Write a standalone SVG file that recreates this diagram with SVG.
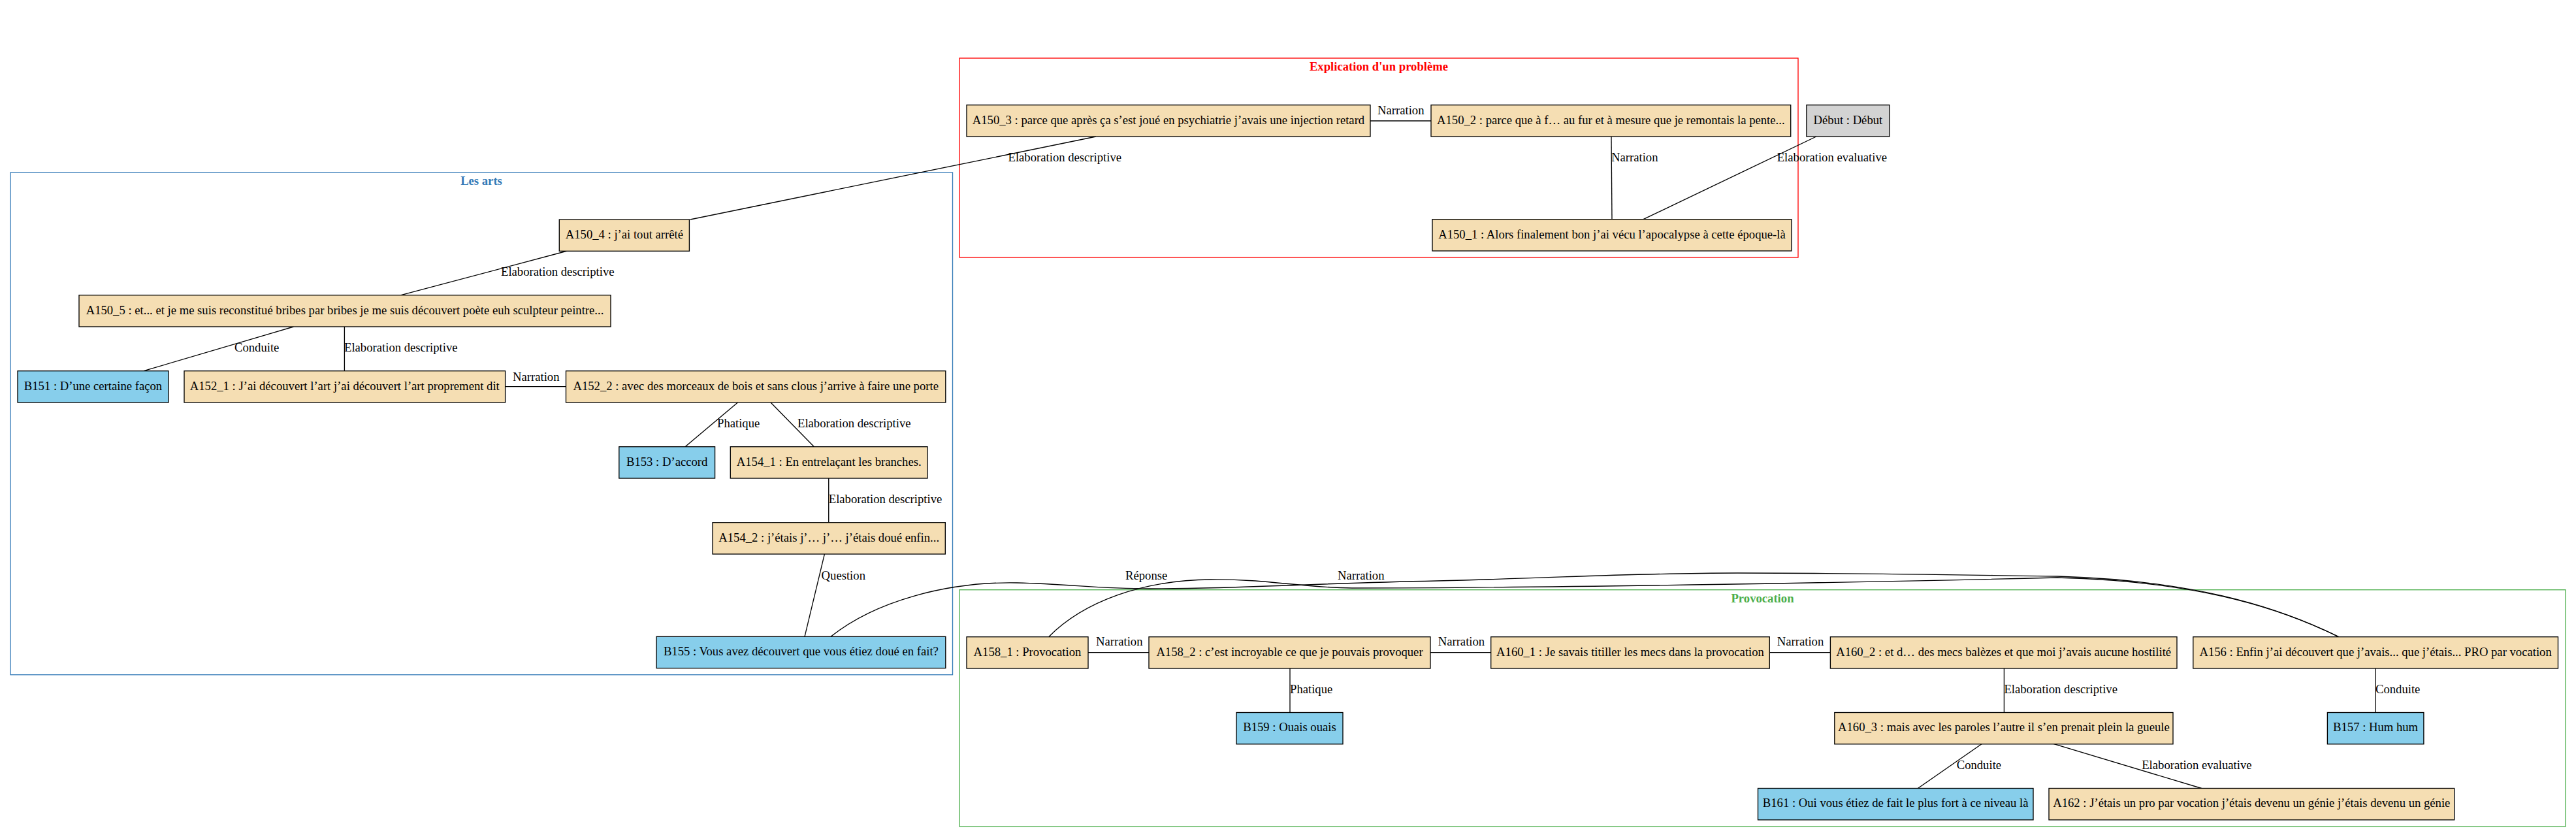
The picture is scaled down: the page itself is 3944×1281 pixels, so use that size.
<svg xmlns="http://www.w3.org/2000/svg" width="3944" height="1281" viewBox="0 0 3944 1281">
<style>
text{font-family:"Liberation Serif","Times New Roman",serif;font-size:18.67px;fill:#000}
.n text{text-anchor:middle}
.n rect{stroke:#000;stroke-width:1.33}
.w{fill:#f5deb3}
.b{fill:#87ceeb}
.g{fill:#d3d3d3}
.cl{fill:none;stroke-width:1.33}
.ct{font-weight:bold;text-anchor:middle}
#edges path,#edges line{stroke:#000;stroke-width:1.33;fill:none}
</style>
<rect width="3944" height="1281" fill="#fff"/>
<g id="cluster_explication">
<rect class="cl" x="1469" y="89" width="1284" height="305" stroke="#ff0000"/>
<text class="ct" x="2111" y="108" style="fill:#ff0000">Explication d'un problème</text>
</g>
<g id="cluster_arts">
<rect class="cl" x="16" y="264" width="1442.5" height="768.7" stroke="#337ab7"/>
<text class="ct" x="737" y="283" style="fill:#337ab7">Les arts</text>
</g>
<g id="cluster_provocation">
<rect class="cl" x="1469" y="902.7" width="2459" height="362.3" stroke="#4cae4c"/>
<text class="ct" x="2698.5" y="921.7" style="fill:#4cae4c">Provocation</text>
</g>
<g id="edges">
<line x1="2098" y1="185" x2="2191" y2="185"/>
<text x="2109" y="175">Narration</text>
<line x1="2467" y1="209" x2="2468" y2="335.7"/>
<text x="2467" y="247">Narration</text>
<line x1="2780.8" y1="209" x2="2516" y2="335.7"/>
<text x="2720.7" y="247">Elaboration evaluative</text>
<line x1="1678" y1="209" x2="1056.7" y2="336"/>
<text x="1543.5" y="246.7">Elaboration descriptive</text>
<line x1="868.6" y1="384" x2="614" y2="451.7"/>
<text x="767" y="421.7">Elaboration descriptive</text>
<line x1="449.6" y1="500" x2="220" y2="567.7"/>
<text x="359" y="538.3">Conduite</text>
<line x1="527.4" y1="500" x2="527.4" y2="567.7"/>
<text x="527" y="538.3">Elaboration descriptive</text>
<line x1="773.6" y1="591.7" x2="866.5" y2="591.7"/>
<text x="785" y="583.3">Narration</text>
<line x1="1129.5" y1="616" x2="1049" y2="683.7"/>
<text x="1098" y="654.3">Phatique</text>
<line x1="1180" y1="616" x2="1246.4" y2="683.7"/>
<text x="1221" y="654.3">Elaboration descriptive</text>
<line x1="1268.75" y1="732" x2="1268.75" y2="799.7"/>
<text x="1268.75" y="770">Elaboration descriptive</text>
<line x1="1262.5" y1="847.7" x2="1232" y2="974.3"/>
<text x="1257.6" y="886.7">Question</text>
<path d="M1272,974.3 C1340,920 1450,890 1557,892 C1640,894 1680,901 1760,901 C1900,901 2000,893 2200,889 C2400,884 2500,877 2660,877 C2850,877 3000,880 3150,882 C3350,888 3480,925 3580.6,974.7"/>
<text x="1723" y="886.7">Réponse</text>
<path d="M1605.6,974.7 C1660,920 1750,888 1854,887 C1940,886 1990,899 2070,900 C2400,900 2900,890 3150,884 C3350,889 3480,925 3580.6,974.7"/>
<text x="2048" y="886.7">Narration</text>
<line x1="1666" y1="998.7" x2="1759" y2="998.7"/>
<text x="1678" y="988.3">Narration</text>
<line x1="1975" y1="1022.7" x2="1975" y2="1090.5"/>
<text x="1975" y="1060.7">Phatique</text>
<line x1="2190" y1="998.7" x2="2282.7" y2="998.7"/>
<text x="2201.7" y="988.3">Narration</text>
<line x1="2709.3" y1="998.7" x2="2802.4" y2="998.7"/>
<text x="2720.8" y="988.3">Narration</text>
<line x1="3068.4" y1="1022.7" x2="3068.4" y2="1090.5"/>
<text x="3068.4" y="1060.7">Elaboration descriptive</text>
<line x1="3034.6" y1="1138.3" x2="2936.4" y2="1206.5"/>
<text x="2995.7" y="1176.7">Conduite</text>
<line x1="3144" y1="1138.3" x2="3370.7" y2="1206.5"/>
<text x="3279.2" y="1176.7">Elaboration evaluative</text>
<line x1="3637" y1="1022.7" x2="3637" y2="1090.5"/>
<text x="3637" y="1060.7">Conduite</text>
</g>
<g id="A150_3" class="n"><rect class="w" x="1480" y="160.7" width="618" height="48.3"/><text x="1789" y="189.5">A150_3 : parce que après ça s’est joué en psychiatrie j’avais une injection retard</text></g>
<g id="A150_2" class="n"><rect class="w" x="2191" y="160.7" width="550.7" height="48.3"/><text x="2466.3" y="189.5">A150_2 : parce que à f… au fur et à mesure que je remontais la pente...</text></g>
<g id="Debut" class="n"><rect class="g" x="2765.9" y="160.7" width="127" height="48.3"/><text x="2829.4" y="189.5">Début : Début</text></g>
<g id="A150_1" class="n"><rect class="w" x="2193" y="335.7" width="549.9" height="48.3"/><text x="2468" y="364.5">A150_1 : Alors finalement bon j’ai vécu l’apocalypse à cette époque-là</text></g>
<g id="A150_4" class="n"><rect class="w" x="856.3" y="336" width="199.1" height="48.3"/><text x="955.9" y="364.8">A150_4 : j’ai tout arrêté</text></g>
<g id="A150_5" class="n"><rect class="w" x="121" y="451.7" width="814" height="48.3"/><text x="528" y="480.5">A150_5 : et... et je me suis reconstitué bribes par bribes je me suis découvert poète euh sculpteur peintre...</text></g>
<g id="B151" class="n"><rect class="b" x="27" y="567.7" width="231" height="48.3"/><text x="142.5" y="596.5">B151 : D’une certaine façon</text></g>
<g id="A152_1" class="n"><rect class="w" x="282" y="567.7" width="491.6" height="48.3"/><text x="527.8" y="596.5">A152_1 : J’ai découvert l’art j’ai découvert l’art proprement dit</text></g>
<g id="A152_2" class="n"><rect class="w" x="866.5" y="567.7" width="581.3" height="48.3"/><text x="1157.2" y="596.5">A152_2 : avec des morceaux de bois et sans clous j’arrive à faire une porte</text></g>
<g id="B153" class="n"><rect class="b" x="947.8" y="683.7" width="146.8" height="48.3"/><text x="1021.2" y="712.5">B153 : D’accord</text></g>
<g id="A154_1" class="n"><rect class="w" x="1118.3" y="683.7" width="301.7" height="48.3"/><text x="1269.2" y="712.5">A154_1 : En entrelaçant les branches.</text></g>
<g id="A154_2" class="n"><rect class="w" x="1091" y="799.7" width="356.3" height="48.3"/><text x="1269.2" y="828.5">A154_2 : j’étais j’… j’… j’étais doué enfin...</text></g>
<g id="B155" class="n"><rect class="b" x="1005" y="974.3" width="442.8" height="48.3"/><text x="1226.4" y="1003.1">B155 : Vous avez découvert que vous étiez doué en fait?</text></g>
<g id="A158_1" class="n"><rect class="w" x="1480" y="974.7" width="186" height="48.3"/><text x="1573" y="1003.5">A158_1 : Provocation</text></g>
<g id="A158_2" class="n"><rect class="w" x="1759" y="974.7" width="431" height="48.3"/><text x="1974.5" y="1003.5">A158_2 : c’est incroyable ce que je pouvais provoquer</text></g>
<g id="A160_1" class="n"><rect class="w" x="2282.7" y="974.7" width="426.6" height="48.3"/><text x="2496" y="1003.5">A160_1 : Je savais titiller les mecs dans la provocation</text></g>
<g id="A160_2" class="n"><rect class="w" x="2802.4" y="974.7" width="530.6" height="48.3"/><text x="3067.7" y="1003.5">A160_2 : et d… des mecs balèzes et que moi j’avais aucune hostilité</text></g>
<g id="A156" class="n"><rect class="w" x="3357.8" y="974.7" width="558.7" height="48.3"/><text x="3637.1" y="1003.5">A156 : Enfin j’ai découvert que j’avais... que j’étais... PRO par vocation</text></g>
<g id="B159" class="n"><rect class="b" x="1893" y="1090.5" width="163" height="48.3"/><text x="1974.5" y="1119.3">B159 : Ouais ouais</text></g>
<g id="A160_3" class="n"><rect class="w" x="2808.8" y="1090.5" width="518.2" height="48.3"/><text x="3067.9" y="1119.3">A160_3 : mais avec les paroles l’autre il s’en prenait plein la gueule</text></g>
<g id="B157" class="n"><rect class="b" x="3563.4" y="1090.5" width="147.5" height="48.3"/><text x="3637.1" y="1119.3">B157 : Hum hum</text></g>
<g id="B161" class="n"><rect class="b" x="2691.5" y="1206.5" width="421.5" height="48.3"/><text x="2902.2" y="1235.3">B161 : Oui vous étiez de fait le plus fort à ce niveau là</text></g>
<g id="A162" class="n"><rect class="w" x="3137" y="1206.5" width="620.7" height="48.3"/><text x="3447.3" y="1235.3">A162 : J’étais un pro par vocation j’étais devenu un génie j’étais devenu un génie</text></g>
</svg>
